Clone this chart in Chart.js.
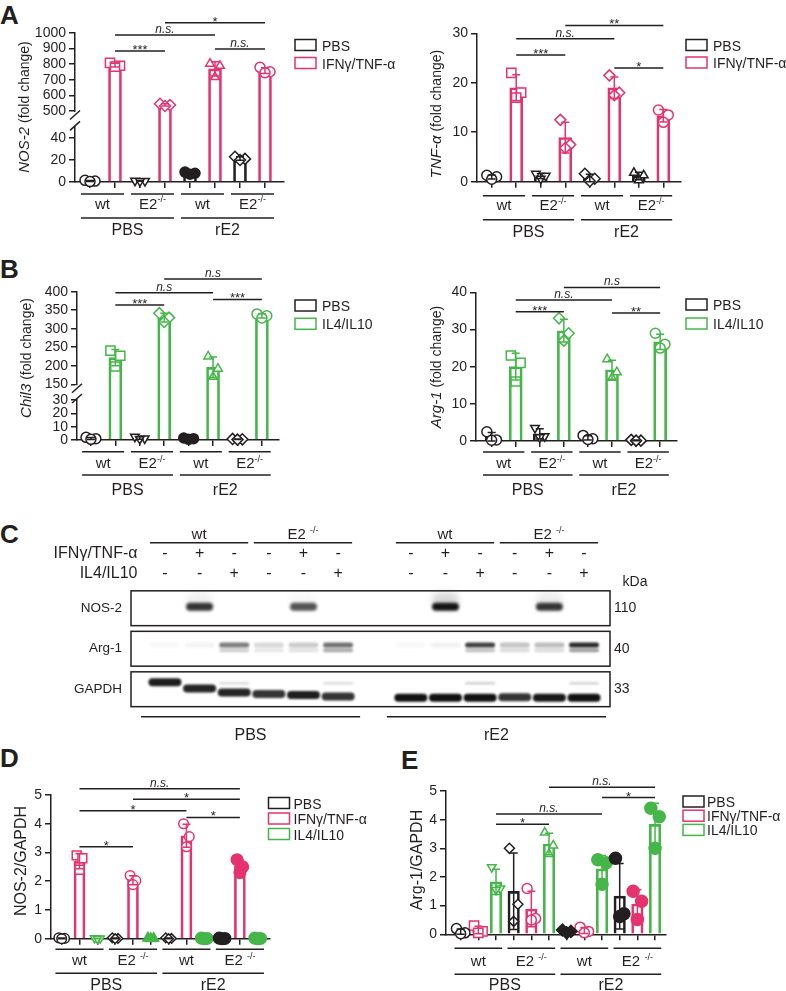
<!DOCTYPE html>
<html>
<head>
<meta charset="utf-8">
<title>E2 and macrophage polarization</title>
<script src="https://cdn.jsdelivr.net/npm/chart.js@4.4.1/dist/chart.umd.min.js"></script>
<style>
  body { margin: 0; width: 786px; height: 991px; position: relative; overflow: hidden; background: #fff; }
  .tag { position: absolute; font: bold 26px "Liberation Sans", Arial, sans-serif; line-height: 26px; color: #231f20; }
</style>
</head>
<body>
<div class="tag" style="left:0;top:2px">A</div>
<div class="tag" style="left:0;top:256px">B</div>
<div class="tag" style="left:0;top:521px">C</div>
<div class="tag" style="left:0;top:745px">D</div>
<div class="tag" style="left:401px;top:747px">E</div>
<script>
const INK = '#231f20', PINK = '#e4336f', GREEN = '#45b649';
const FONT = '"Liberation Sans", Arial, sans-serif';
Chart.defaults.font.family = FONT;
Chart.defaults.color = INK;

// groups, in order: PBS-wt, PBS-E2-/-, rE2-wt, rE2-E2-/-  (three replicates each)
const groupsAB = ['wt', 'E2^-/-', 'wt', 'E2^-/-'];
const groupsDE = ['wt', 'E2 ^-/-', 'wt', 'E2 ^-/-'];
const treatments = ['PBS', 'rE2'];

// A - NOS-2 (fold change)
const nos2Pbs = [[1.5, 0.8, 0.4], [1.2, 0.9, 0.6], [9, 8, 7], [23, 21, 20]];
const nos2Ifn = [[808, 790, 785], [547, 538, 532], [803, 790, 718], [780, 752, 745]];
const nos2Ticks = [0, 20, 40, 500, 600, 700, 800, 900, 1000];

// A - TNF-alpha (fold change)
const tnfPbs = [[1.3, 1.0, 0.5], [1.6, 1.2, 0.6], [1.6, 0.6, 0.1], [1.8, 1.3, 0.3]];
const tnfIfn = [[22, 18, 17], [12.5, 7.5, 6.8], [21.5, 18, 17.5], [14.5, 13.5, 12]];
const tnfTicks = [0, 10, 20, 30];

// B - Chil3 (fold change)
const chil3Pbs = [[2, 1, 0.5], [2.5, 1.2, 0.8], [1.5, 1, 0.5], [0.8, 0.5, 0.3]];
const chil3Il4 = [[241, 227, 198], [342, 330, 318], [225, 192, 170], [340, 335, 329]];
const chil3Ticks = [0, 10, 20, 30, 150, 200, 250, 300, 350, 400];

// B - Arg-1 (fold change)
const arg1Pbs = [[2.5, 0.3, 0.2], [3.5, 1.3, 1.0], [1.5, 0.6, 0.4], [0.3, 0.1, 0.1]];
const arg1Il4 = [[23, 21, 16], [33, 29, 27], [22, 18.5, 17], [29, 26, 25]];
const arg1Ticks = [0, 10, 20, 30, 40];

// D - NOS-2/GAPDH
const dPbs = [[0.03, 0.01, 0], [0.03, 0.01, 0], [0.03, 0.01, 0], [0.02, 0.01, 0]];
const dIfn = [[2.9, 2.8, 2.4], [2.2, 2.02, 1.88], [4.0, 3.55, 3.2], [2.75, 2.5, 2.3]];
const dIl4 = [[0.02, 0.01, 0], [0.02, 0.01, 0], [0.02, 0.01, 0], [0.02, 0.01, 0]];

// E - Arg-1/GAPDH
const ePbs = [[0.2, 0.05, 0.02], [3.0, 1.05, 0.45], [0.15, 0.1, 0.05], [2.65, 0.72, 0.62]];
const eIfn = [[0.3, 0.1, 0.05], [1.6, 0.55, 0.5], [0.25, 0.1, 0.05], [1.5, 1.15, 0.52]];
const eIl4 = [[2.34, 1.6, 1.55], [3.55, 3.1, 2.8], [2.6, 2.5, 1.75], [4.4, 4.1, 3.0]];
const unitTicks = [0, 1, 2, 3, 4, 5];

// C - western blot, 12 lanes
const blotGroups = ['wt', 'E2 ^-/-', 'wt', 'E2 ^-/-'];
const laneIfn = ['-', '+', '-', '-', '+', '-', '-', '+', '-', '-', '+', '-'];
const laneIl4 = ['-', '-', '+', '-', '-', '+', '-', '-', '+', '-', '-', '+'];
const blotRows = ['NOS-2', 'Arg-1', 'GAPDH'];
const blotKda = ['110', '40', '33'];
const nosBand   = [0, 0.85, 0, 0, 0.72, 0, 0, 1, 0, 0, 0.85, 0];
const nosSmear  = [0, 0.06, 0, 0, 0.03, 0, 0, 0.16, 0, 0, 0.08, 0];
const argBand   = [0.03, 0.05, 0.55, 0.16, 0.22, 0.6, 0.03, 0.06, 0.8, 0.25, 0.28, 0.9];
const argLow    = [0, 0, 0.2, 0.1, 0.12, 0.35, 0, 0, 0.25, 0.15, 0.15, 0.4];
const gapdhBand = [0.95, 0.92, 0.92, 0.85, 0.95, 0.85, 1, 1, 1, 0.85, 0.97, 1];
const gapdhFaint = [0, 0, 0.15, 0, 0, 0.15, 0, 0, 0.2, 0, 0, 0.18];
const gapdhDrift = [-0.17, -0.02, 0.08, 0.12, 0.14, 0.18, 0.21, 0.21, 0.21, 0.2, 0.21, 0.21];

const MK = {
  o: ['circle', 0, false], O: ['circle', 0, true],
  s: ['rect', 0, false], S: ['rect', 0, true],
  d: ['rectRot', 0, false], D: ['rectRot', 0, true],
  t: ['triangle', 0, false], T: ['triangle', 0, true],
  v: ['triangle', 180, false], V: ['triangle', 180, true]
};
const JIT = [-0.2, 0.2, 0];

function mean(a) { return a.reduce((s, v) => s + v, 0) / a.length; }
function sdev(a) { const m = mean(a); return Math.sqrt(a.reduce((s, v) => s + (v - m) ** 2, 0) / (a.length - 1)); }
function brokenAxis(b) { return v => v <= b.cut ? v : b.at + (v - b.resume) * b.k; }

function hline(ctx, xa, xb, y) { ctx.beginPath(); ctx.moveTo(xa, y); ctx.lineTo(xb, y); ctx.stroke(); }

function supText(ctx, s, cx, by, size) {
  const [main, sup = ''] = s.split('^');
  const small = Math.round(size * 0.62);
  ctx.font = `${size}px ${FONT}`;
  const w1 = ctx.measureText(main).width;
  ctx.font = `${small}px ${FONT}`;
  const w2 = ctx.measureText(sup).width;
  const left = cx - (w1 + w2) / 2;
  ctx.textAlign = 'left';
  ctx.font = `${size}px ${FONT}`;
  ctx.fillText(main, left, by);
  ctx.font = `${small}px ${FONT}`;
  ctx.fillText(sup, left + w1, by - size * 0.42);
}

const deco = {
  id: 'deco',
  afterDatasetsDraw(chart, args, o) {
    const { ctx } = chart, x = chart.scales.x, y = chart.scales.y;
    ctx.save();
    ctx.lineWidth = 1.5;
    chart.data.datasets.forEach(ds => {
      if (!ds.errs) return;
      ctx.strokeStyle = ds.borderColor;
      ds.errs.forEach(([i, lo, hi]) => {
        const px = x.getPixelForValue(i), pa = y.getPixelForValue(lo), pb = y.getPixelForValue(hi);
        ctx.beginPath();
        ctx.moveTo(px, pa); ctx.lineTo(px, pb);
        ctx.moveTo(px - o.cap, pa); ctx.lineTo(px + o.cap, pa);
        ctx.moveTo(px - o.cap, pb); ctx.lineTo(px + o.cap, pb);
        ctx.stroke();
      });
    });
    ctx.restore();
  },
  afterDraw(chart, args, o) {
    const { ctx, chartArea: ca } = chart, x = chart.scales.x, y = chart.scales.y;
    ctx.save();
    ctx.strokeStyle = INK; ctx.fillStyle = INK; ctx.lineWidth = 1.5;
    ctx.textBaseline = 'alphabetic';

    // broken y axis
    if (o.brk) {
      const ph = y.getPixelForValue(o.brk.at), pl = y.getPixelForValue(o.brk.gapLo);
      ctx.fillStyle = '#fff';
      ctx.fillRect(ca.left - 2, ph + 1, 4, pl - ph - 1);
      ctx.fillStyle = INK;
      [ph + 4, pl].forEach(cy => {
        ctx.beginPath(); ctx.moveTo(ca.left - 5, cy + 4.5); ctx.lineTo(ca.left + 5, cy - 4.5); ctx.stroke();
      });
    }

    // significance brackets
    o.sig.forEach(([i0, i1, v, lab]) => {
      const py = y.getPixelForValue(v), xa = x.getPixelForValue(i0), xb = x.getPixelForValue(i1);
      hline(ctx, xa, xb, py);
      const ns = lab[0] === 'n';
      ctx.font = ns ? `italic 12px ${FONT}` : `13px ${FONT}`;
      ctx.textAlign = 'center';
      ctx.fillText(lab, (xa + xb) / 2, py + (ns ? -2 : 3));
    });

    // group labels under the x axis
    const g = o.groups, per = g.per, base = ca.bottom;
    g.lab1.forEach((lab, k) => {
      const xa = x.getPixelForValue(k * per - g.pad), xb = x.getPixelForValue(k * per + per - 1 + g.pad);
      hline(ctx, xa, xb, base + g.off[0]);
      supText(ctx, lab, (xa + xb) / 2, base + g.off[1], 15);
    });
    g.lab2.forEach((lab, k) => {
      const xa = x.getPixelForValue(2 * k * per - g.pad), xb = x.getPixelForValue(2 * k * per + 2 * per - 1 + g.pad);
      hline(ctx, xa, xb, base + g.off[2]);
      supText(ctx, lab, (xa + xb) / 2, base + g.off[3], 16);
    });

    // legend
    const lg = o.legend;
    lg.items.forEach(([lab, col], k) => {
      const by = lg.y + k * lg.dy;
      ctx.strokeStyle = col;
      ctx.strokeRect(lg.x, by, 21, 11);
      ctx.fillStyle = INK;
      ctx.font = `14px ${FONT}`;
      ctx.textAlign = 'left';
      ctx.fillText(lab, lg.x + lg.tx, by + 11);
    });

    // y title with mixed italic
    const t = o.ytitle;
    ctx.translate(t.x, t.y);
    ctx.rotate(-Math.PI / 2);
    ctx.textBaseline = 'middle';
    ctx.textAlign = 'left';
    const fonts = t.parts.map(([s, it]) => `${it ? 'italic ' : ''}${it ? t.size + 1 : t.size}px ${FONT}`);
    const ws = t.parts.map(([s], k) => { ctx.font = fonts[k]; return ctx.measureText(s).width; });
    let cx = -ws.reduce((a, b) => a + b, 0) / 2;
    t.parts.forEach(([s], k) => { ctx.font = fonts[k]; ctx.fillText(s, cx, 0); cx += ws[k]; });
    ctx.restore();
  }
};

function build(o) {
  const [L, T, W, H] = o.box, [x0, x1, yT, yB] = o.plot;
  const cv = document.createElement('canvas');
  cv.width = W; cv.height = H;
  cv.style.cssText = `position:absolute;left:${L}px;top:${T}px`;
  document.body.appendChild(cv);
  const f = o.brk ? brokenAxis(o.brk) : (v => v);
  const n = o.series.length, datasets = [];
  const fillK = o.fillK || 1, dK = o.dK || 1.1;
  o.series.forEach((s, si) => {
    const bars = [], errs = [], pts = [], sty = [], rot = [], fill = [], rad = [];
    s.vals.forEach((rep, g) => {
      const i = g * n + si, m = mean(rep), sd = sdev(rep);
      bars.push({ x: i, y: f(m) });
      errs.push([i, f(Math.max(m - sd, 0)), f(m + sd)]);
      const mk = MK[s.marks[g]];
      rep.forEach((v, k) => {
        pts.push({ x: i + JIT[k] * o.jit, y: f(v) });
        sty.push(mk[0]); rot.push(mk[1]); fill.push(mk[2] ? s.color : '#fff');
        const base = mk[0] === 'rect' ? o.ptR * 1.3 : mk[0] === 'rectRot' ? o.ptR * dK : o.ptR;
        rad.push(mk[2] ? base * fillK : base);
      });
    });
    datasets.push({ type: 'bar', data: bars, errs, borderColor: s.color, backgroundColor: 'rgba(255,255,255,0)',
      borderWidth: 2, barThickness: o.barW, grouped: false, order: 2, clip: false });
    datasets.push({ type: 'scatter', data: pts, pointStyle: sty, pointRotation: rot, pointBackgroundColor: fill,
      pointBorderColor: s.color, pointBorderWidth: 1.5, pointRadius: rad, order: 1, clip: false });
  });
  const xTicks = Array.from({ length: 4 * n }, (_, i) => i);
  const axisGrid = { drawOnChartArea: false, tickLength: 6, color: INK, lineWidth: 1.5, offset: false };
  new Chart(cv, {
    type: 'bar',
    data: { datasets },
    options: {
      responsive: false, animation: false, devicePixelRatio: 1, events: [],
      layout: { padding: { left: 0, top: yT - T, right: L + W - x1, bottom: 0 } },
      scales: {
        x: { type: 'linear', offset: false, min: o.xr[0], max: o.xr[1],
          afterBuildTicks: s => { s.ticks = xTicks.map(v => ({ value: v })); },
          afterFit: s => { s.height = T + H - yB; },
          ticks: { display: false, autoSkip: false }, grid: axisGrid, border: { color: INK, width: 1.5 } },
        y: { type: 'linear', min: 0, max: f(o.ticks[o.ticks.length - 1]),
          afterBuildTicks: s => { s.ticks = o.ticks.map(v => ({ value: f(v) })); },
          afterFit: s => { s.width = x0 - L; },
          ticks: { font: { size: 14 }, color: INK, padding: 3, autoSkip: false,
            callback: (v, i) => String(o.ticks[i]) },
          grid: axisGrid, border: { color: INK, width: 1.5 } }
      },
      plugins: {
        legend: { display: false }, tooltip: { enabled: false },
        deco: {
          cap: o.cap,
          brk: o.brk ? { at: o.brk.at, gapLo: o.brk.gapLo } : null,
          sig: o.sig.map(([a, b, v, l]) => [a, b, f(v), l]),
          groups: o.groups,
          legend: { x: o.legend.x - L, y: o.legend.y - T, dy: o.legend.dy, tx: o.legend.tx, items: o.legend.items },
          ytitle: { x: o.ytitle.x - L, y: o.ytitle.y - T, parts: o.ytitle.parts, size: o.ytitle.size }
        }
      }
    },
    plugins: [deco]
  });
}

const legIfn = [['PBS', INK], ['IFNγ/TNF-α', PINK]];
const legIl4 = [['PBS', INK], ['IL4/IL10', GREEN]];
const legAll = [['PBS', INK], ['IFNγ/TNF-α', PINK], ['IL4/IL10', GREEN]];

build({
  box: [0, 0, 410, 248], plot: [75, 284, 33, 182], xr: [-0.6, 7.76], ticks: nos2Ticks,
  brk: { cut: 50, resume: 500, at: 64.5, k: 0.1418, gapLo: 51 },
  series: [{ vals: nos2Pbs, color: INK, marks: 'ovOd' }, { vals: nos2Ifn, color: PINK, marks: 'sdto' }],
  sig: [[1, 3, 885, '***'], [1, 5, 987, 'n.s.'], [3, 7, 1066, '*'], [5, 7, 897, 'n.s.']],
  groups: { per: 2, lab1: groupsAB, lab2: treatments, off: [12, 26.5, 36, 53], pad: 0.36 },
  legend: { x: 295, y: 39.5, dy: 18, tx: 27, items: legIfn },
  ytitle: { x: 25, y: 107, parts: [['NOS-2', true], [' (fold change)', false]], size: 14 },
  barW: 13, ptR: 5, cap: 4, jit: 1
});

build({
  box: [390, 0, 396, 248], plot: [477, 681, 33.3, 181.7], xr: [-0.6, 7.72], ticks: tnfTicks,
  series: [{ vals: tnfPbs, color: INK, marks: 'ovdt' }, { vals: tnfIfn, color: PINK, marks: 'sddo' }],
  sig: [[1, 3, 25.6, '***'], [1, 5, 28.9, 'n.s.'], [3, 7, 31.6, '**'], [5, 7, 23, '*']],
  groups: { per: 2, lab1: groupsAB, lab2: treatments, off: [14, 28.5, 38, 55], pad: 0.36 },
  legend: { x: 686, y: 39.5, dy: 17.5, tx: 27, items: legIfn },
  ytitle: { x: 437, y: 114, parts: [['TNF-α', true], [' (fold change)', false]], size: 14 },
  barW: 13, ptR: 5, cap: 4, jit: 1
});

build({
  box: [0, 248, 410, 257], plot: [77, 279, 291.7, 440], xr: [-0.57, 7.7], ticks: chil3Ticks,
  brk: { cut: 30, resume: 150, at: 41.8, k: 0.2776, gapLo: 31.1 },
  series: [{ vals: chil3Pbs, color: INK, marks: 'ovOd' }, { vals: chil3Il4, color: GREEN, marks: 'sdto' }],
  sig: [[1, 3, 364, '***'], [1, 5, 397, 'n.s'], [3, 7, 434, 'n.s'], [5, 7, 379, '***']],
  groups: { per: 2, lab1: groupsAB, lab2: treatments, off: [11.7, 28, 35, 55], pad: 0.36 },
  legend: { x: 295, y: 300, dy: 18.3, tx: 27, items: legIl4 },
  ytitle: { x: 27, y: 358, parts: [['Chil3', true], [' (fold change)', false]], size: 14 },
  barW: 13, ptR: 5, cap: 4, jit: 1
});

build({
  box: [390, 248, 396, 257], plot: [476, 677, 292.3, 441], xr: [-0.65, 7.7], ticks: arg1Ticks,
  series: [{ vals: arg1Pbs, color: INK, marks: 'ovod' }, { vals: arg1Il4, color: GREEN, marks: 'sdto' }],
  sig: [[1, 3, 34.8, '***'], [1, 5, 37.9, 'n.s.'], [3, 7, 41.3, 'n.s'], [5, 7, 34.4, '**']],
  groups: { per: 2, lab1: groupsAB, lab2: treatments, off: [11, 27, 34, 54], pad: 0.36 },
  legend: { x: 686, y: 299, dy: 19, tx: 27, items: legIl4 },
  ytitle: { x: 437, y: 367, parts: [['Arg-1', true], [' (fold change)', false]], size: 14 },
  barW: 13, ptR: 5, cap: 4, jit: 1
});

build({
  box: [0, 750, 400, 241], plot: [51, 270, 795, 938.7], xr: [-0.6, 11.69], ticks: unitTicks,
  series: [{ vals: dPbs, color: INK, marks: 'oddO' }, { vals: dIfn, color: PINK, marks: 'sooO' },
           { vals: dIl4, color: GREEN, marks: 'vTOO' }],
  sig: [[1, 10, 5.22, 'n.s.'], [4, 10, 4.85, '*'], [1, 7, 4.45, '*'], [7, 10, 4.22, '*'], [1, 4, 3.2, '*']],
  groups: { per: 3, lab1: groupsDE, lab2: treatments, off: [10.5, 26.5, 34.5, 51], pad: 0.35 },
  legend: { x: 268.5, y: 797.5, dy: 15.5, tx: 25, items: legAll },
  ytitle: { x: 22, y: 861, parts: [['NOS-2/GAPDH', false]], size: 16 },
  barW: 11, ptR: 4.8, cap: 4, jit: 0.8, fillK: 1.2, dK: 1
});

build({
  box: [390, 750, 396, 241], plot: [446, 666, 791, 934.3], xr: [-0.83, 11.62], ticks: unitTicks,
  series: [{ vals: ePbs, color: INK, marks: 'odDO' }, { vals: eIfn, color: PINK, marks: 'sooO' },
           { vals: eIl4, color: GREEN, marks: 'vtOO' }],
  sig: [[5, 11, 5.13, 'n.s.'], [8, 11, 4.77, '*'], [2, 8, 4.2, 'n.s.'], [2, 5, 3.84, '*']],
  groups: { per: 3, lab1: groupsDE, lab2: treatments, off: [14, 32, 40, 56], pad: 0.35 },
  legend: { x: 683, y: 796, dy: 14.2, tx: 24, items: legAll },
  ytitle: { x: 418, y: 860, parts: [['Arg-1/GAPDH', false]], size: 16 },
  barW: 11.5, ptR: 5, cap: 4, jit: 1.2, fillK: 1.2, dK: 1
});

// ---- C: western blot drawn on a hidden-axis scatter chart ----
const lanePos = i => (i < 6 ? i : i + 1.1);
const blot = {
  id: 'blot',
  afterDatasetsDraw(chart) {
    const { ctx, chartArea: ca } = chart, x = chart.scales.x, y = chart.scales.y;
    ctx.save();
    chart.data.datasets.forEach((ds, r) => {
      chart.getDatasetMeta(r).data.forEach((pt, i) => {
        const a = ds.dens[i];
        if (!a) return;
        ctx.filter = `blur(${ds.blur}px)`;
        ctx.fillStyle = `rgba(18,18,18,${a})`;
        ctx.beginPath();
        ctx.roundRect(pt.x - ds.bw / 2, pt.y - ds.bh / 2, ds.bw, ds.bh, ds.bh / 2);
        ctx.fill();
      });
    });
    ctx.filter = 'none';
    ctx.strokeStyle = INK; ctx.fillStyle = INK; ctx.lineWidth = 1.5;
    ctx.textBaseline = 'middle';
    blotRows.forEach((lab, r) => {
      const top = y.getPixelForValue(r - 0.43), bot = y.getPixelForValue(r + 0.43);
      ctx.strokeRect(ca.left, top, ca.right - ca.left, bot - top);
      ctx.font = `13.5px ${FONT}`;
      ctx.textAlign = 'right';
      ctx.fillText(lab, ca.left - 9, y.getPixelForValue(r));
      ctx.font = `14px ${FONT}`;
      ctx.textAlign = 'left';
      ctx.fillText(blotKda[r], ca.right + 4, y.getPixelForValue(r));
    });
    ctx.textAlign = 'center';
    ctx.font = `14px ${FONT}`;
    ctx.fillText('kDa', ca.right + 25, ca.top - 6.3);
    ctx.font = `16px ${FONT}`;
    ctx.textAlign = 'right';
    ctx.fillText('IFNγ/TNF-α', ca.left + 6.5, ca.top - 34.7);
    ctx.fillText('IL4/IL10', ca.left + 6.5, ca.top - 14.7);
    ctx.textAlign = 'center';
    laneIfn.forEach((s, i) => {
      const px = x.getPixelForValue(lanePos(i));
      ctx.fillText(s, px, ca.top - 34.7);
      ctx.fillText(laneIl4[i], px, ca.top - 14.7);
    });
    ctx.textBaseline = 'alphabetic';
    blotGroups.forEach((lab, g) => {
      const xa = x.getPixelForValue(lanePos(g * 3)) - 15, xb = x.getPixelForValue(lanePos(g * 3 + 2)) + 14;
      hline(ctx, xa, xb, ca.top - 45.3);
      supText(ctx, lab, (xa + xb) / 2, ca.top - 49, 15);
    });
    treatments.forEach((lab, k) => {
      const xa = x.getPixelForValue(lanePos(k * 6)) - 24, xb = x.getPixelForValue(lanePos(k * 6 + 5)) + 22;
      hline(ctx, xa, xb, ca.bottom + 7.2);
      supText(ctx, lab, (xa + xb) / 2, ca.bottom + 30.5, 16);
    });
    ctx.restore();
  }
};

(function () {
  const L = 0, T = 505, W = 786, H = 245;
  const cv = document.createElement('canvas');
  cv.width = W; cv.height = H;
  cv.style.cssText = `position:absolute;left:${L}px;top:${T}px`;
  document.body.appendChild(cv);
  const lanes = laneIfn.map((_, i) => i);
  const row = (r, off, dens, bw, bh, blur) => ({
    type: 'scatter', pointRadius: 0, dens, bw, bh, blur,
    data: lanes.map(i => ({ x: lanePos(i), y: r + (Array.isArray(off) ? off[i] : off) }))
  });
  new Chart(cv, {
    type: 'scatter',
    data: {
      datasets: [
        row(0, -0.2, nosSmear, 27, 16, 3),
        row(0, -0.04, nosBand, 27, 8, 1.5),
        row(1, -0.09, argBand, 30, 5, 1.3),
        row(1, 0.04, argLow, 30, 4, 1.3),
        row(2, -0.15, gapdhFaint, 30, 2.5, 0.8),
        row(2, gapdhDrift, gapdhBand, 33, 8, 1.1)
      ]
    },
    options: {
      responsive: false, animation: false, devicePixelRatio: 1, events: [],
      layout: { padding: { left: 131, right: W - 610, top: 588 - T, bottom: T + H - 709.5 } },
      scales: {
        x: { type: 'linear', display: false, min: -0.98, max: 12.85 },
        y: { type: 'linear', display: false, min: -0.5, max: 2.5, reverse: true }
      },
      plugins: { legend: { display: false }, tooltip: { enabled: false } }
    },
    plugins: [blot]
  });
})();
</script>
</body>
</html>
